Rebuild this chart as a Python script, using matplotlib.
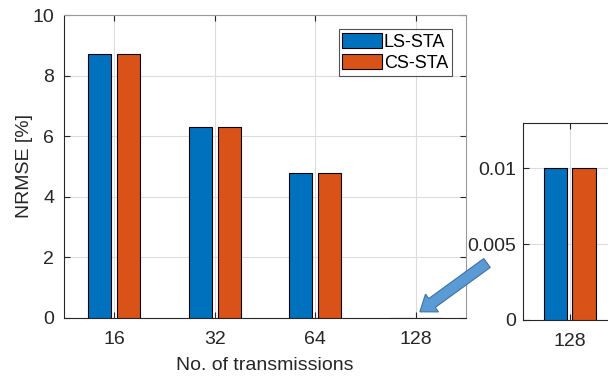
import numpy as np
import matplotlib.pyplot as plt
import matplotlib.patches as mpatches

plt.rcParams['font.family'] = ['Liberation Sans', 'DejaVu Sans']

categories = ['16', '32', '64', '128']
ls_sta = [8.7, 6.3, 4.8, 0.01]
cs_sta = [8.7, 6.3, 4.8, 0.01]

blue = '#0072BD'
orange = '#D95319'
fs = 14

fig = plt.figure(figsize=(6.08, 3.78), dpi=100)

# main axes
ax = fig.add_axes([64/608, 1 - 318/378, (466-64)/608, (318-15)/378])
x = np.arange(1, len(categories) + 1)
w = 0.23
ax.bar(x - 0.143, ls_sta, w, color=blue, edgecolor='black', linewidth=0.8, label='LS-STA', zorder=3)
ax.bar(x + 0.143, cs_sta, w, color=orange, edgecolor='black', linewidth=0.8, label='CS-STA', zorder=3)
ax.set_xlim(0.5, 4.5)
ax.set_ylim(0, 10)
ax.set_xticks(x)
ax.set_xticklabels(categories)
ax.set_yticks([0, 2, 4, 6, 8, 10])
ax.grid(True, color='#DCDCDC', linewidth=0.8, zorder=0)
ax.tick_params(direction='in', top=True, right=True, labelsize=fs, colors='#262626', length=4)
ax.tick_params(axis='x', pad=9)
ax.tick_params(axis='y', pad=7)
for s in ['top', 'right']:
    ax.spines[s].set_color('#9a9a9a')
for s in ['left', 'bottom']:
    ax.spines[s].set_color('#262626')
ax.set_xlabel('No. of transmissions', fontsize=fs, color='#262626', labelpad=7)
ax.set_ylabel('NRMSE [%]', fontsize=fs, color='#262626')
ax.yaxis.set_label_coords(-0.077, 0.5)
leg = ax.legend(loc='upper right', fontsize=fs - 1, frameon=True, fancybox=False,
                edgecolor='#262626', handlelength=2.2, handleheight=0.9,
                handletextpad=0.1, borderpad=0.2, labelspacing=0.2,
                borderaxespad=0.8)
leg.get_frame().set_linewidth(0.8)

# zoomed inset for 128
ax2 = fig.add_axes([523/608, 1 - 320/378, 101/608, (320-123)/378])
ax2.bar([4 - 0.14], [ls_sta[3]], w, color=blue, edgecolor='black', linewidth=0.8, zorder=3)
ax2.bar([4 + 0.14], [cs_sta[3]], w, color=orange, edgecolor='black', linewidth=0.8, zorder=3)
ax2.set_xlim(3.535, 4.535)
ax2.set_ylim(0, 0.013)
ax2.set_xticks([4])
ax2.set_xticklabels([categories[3]])
ax2.set_yticks([0, 0.005, 0.01])
ax2.set_yticklabels(['0', '0.005', '0.01'])
ax2.grid(True, color='#DCDCDC', linewidth=0.8, zorder=0)
ax2.tick_params(direction='in', top=True, right=True, labelsize=fs, colors='#262626', length=4)
ax2.tick_params(axis='x', pad=9)
ax2.tick_params(axis='y', pad=5)
for s in ax2.spines.values():
    s.set_color('#262626')

# arrow pointing from inset to the 128 group
arrow = mpatches.FancyArrow(4.87, 1.15, -0.55, -0.40, width=0.11, head_width=0.22,
                            head_length=0.15, length_includes_head=False,
                            facecolor='#5B9BD5', edgecolor='#41719C', linewidth=0.8,
                            transform=fig.dpi_scale_trans)
fig.patches.append(arrow)

fig.savefig('out.png', dpi=100)
